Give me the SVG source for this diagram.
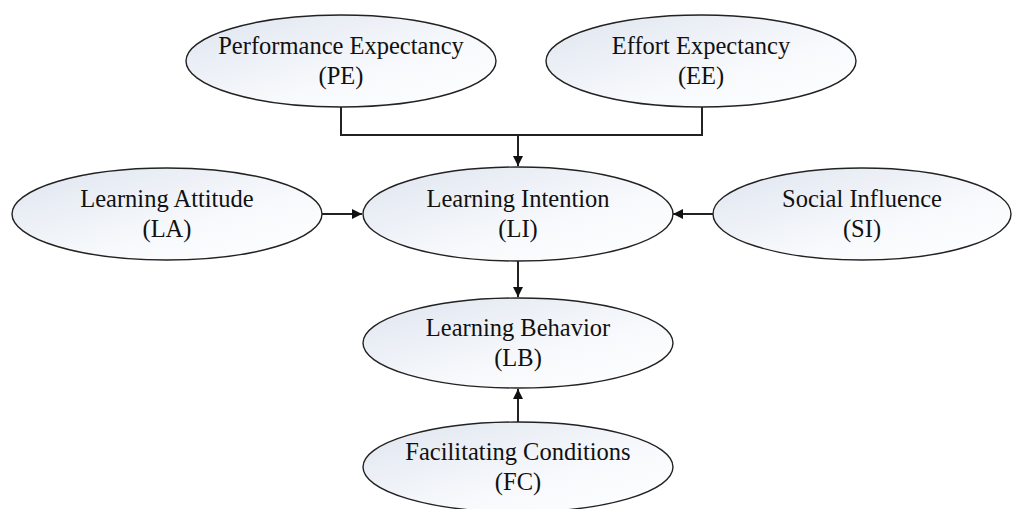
<svg xmlns="http://www.w3.org/2000/svg" width="1012" height="509" viewBox="0 0 1012 509">
<defs>
<linearGradient id="g" x1="0" y1="0" x2="1" y2="1">
<stop offset="0" stop-color="#dfe5ef"/>
<stop offset="0.6" stop-color="#f7f9fc"/>
<stop offset="1" stop-color="#ffffff"/>
</linearGradient>
<marker id="arr" viewBox="0 0 10 10" refX="10" refY="5" markerWidth="10" markerHeight="10" markerUnits="userSpaceOnUse" orient="auto">
<path d="M0,0 L10,5 L0,10 Z" fill="#111"/>
</marker>
<style>
.n ellipse{fill:url(#g);stroke:#222;stroke-width:1.4}
.n text{font-family:"Liberation Serif","Times New Roman",serif;font-size:24.5px;fill:#111;text-anchor:middle}
.c path{fill:none;stroke:#222;stroke-width:2}
</style>
</defs>
<rect width="1012" height="509" fill="#fff"/>
<g id="connectors" class="c">
<path d="M341,107 V135 H702 V107"/>
<path d="M518,135 V166" marker-end="url(#arr)"/>
<path d="M322,214 H362" marker-end="url(#arr)"/>
<path d="M713,214 H673" marker-end="url(#arr)"/>
<path d="M518,261 V297" marker-end="url(#arr)"/>
<path d="M518,422 V389" marker-end="url(#arr)"/>
</g>
<g id="PE" class="n"><ellipse cx="341" cy="61" rx="155" ry="46"/><text x="341" y="54">Performance Expectancy</text><text x="341" y="84">(PE)</text></g>
<g id="EE" class="n"><ellipse cx="701" cy="61" rx="155" ry="46"/><text x="701" y="54">Effort Expectancy</text><text x="701" y="84">(EE)</text></g>
<g id="LA" class="n"><ellipse cx="167" cy="214" rx="155" ry="46"/><text x="167" y="207">Learning Attitude</text><text x="167" y="237">(LA)</text></g>
<g id="LI" class="n"><ellipse cx="518" cy="214" rx="155" ry="47"/><text x="518" y="207">Learning Intention</text><text x="518" y="237">(LI)</text></g>
<g id="SI" class="n"><ellipse cx="862" cy="214" rx="149" ry="46"/><text x="862" y="207">Social Influence</text><text x="862" y="237">(SI)</text></g>
<g id="LB" class="n"><ellipse cx="518" cy="343" rx="155" ry="45"/><text x="518" y="336">Learning Behavior</text><text x="518" y="366">(LB)</text></g>
<g id="FC" class="n"><ellipse cx="518" cy="467" rx="155" ry="45"/><text x="518" y="460">Facilitating Conditions</text><text x="518" y="490">(FC)</text></g>
</svg>
